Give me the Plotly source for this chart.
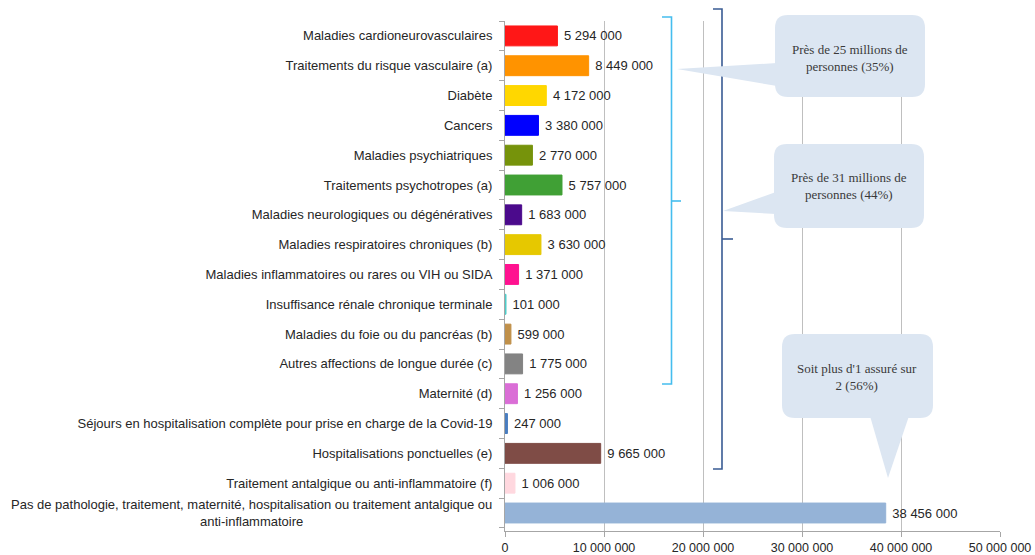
import plotly.graph_objects as go

# ---------------- data ----------------
categories = [
    "Maladies cardioneurovasculaires",
    "Traitements du risque vasculaire (a)",
    "Diabète",
    "Cancers",
    "Maladies psychiatriques",
    "Traitements psychotropes (a)",
    "Maladies neurologiques ou dégénératives",
    "Maladies respiratoires chroniques (b)",
    "Maladies inflammatoires ou rares ou VIH ou SIDA",
    "Insuffisance rénale chronique terminale",
    "Maladies du foie ou du pancréas (b)",
    "Autres affections de longue durée (c)",
    "Maternité (d)",
    "Séjours en hospitalisation complète pour prise en charge de la Covid-19",
    "Hospitalisations ponctuelles (e)",
    "Traitement antalgique ou anti-inflammatoire (f)",
    "Pas de pathologie, traitement, maternité, hospitalisation ou traitement antalgique ou<br>anti-inflammatoire",
]
values = [5294000, 8449000, 4172000, 3380000, 2770000, 5757000, 1683000, 3630000,
          1371000, 101000, 599000, 1775000, 1256000, 247000, 9665000, 1006000, 38456000]
colors = ["#FF1717", "#FF9300", "#FFD700", "#0000FF", "#76930B", "#40A035", "#4B0A8C",
          "#E6C800", "#FF1290", "#4FCDCA", "#C0904A", "#838383", "#DA6ED6", "#4A7EC0",
          "#7F4C46", "#FFD8DF", "#95B3D7"]
x_tickvals = [0, 10000000, 20000000, 30000000, 40000000, 50000000]
x_ticktext = ["0", "10 000 000", "20 000 000", "30 000 000", "40 000 000", "50 000 000"]
callout_texts = [
    "Près de 25 millions de<br>personnes (35%)",
    "Près de 31 millions de<br>personnes (44%)",
    "Soit plus d'1 assuré sur<br>2 (56%)",
]

# ---------------- geometry helpers ----------------
W, H = 1035, 555
ML, MR, MT, MB = 505, 35, 21, 24
PW = W - ML - MR
PH = H - MT - MB


def px(x):
    return (x - ML) / PW


def py(y):
    return (H - MB - y) / PH


def pt(x, y):
    return f"{px(x):.5f},{py(y):.5f}"


def rounded_rect(x0, y0, x1, y1, r):
    return (f"M {pt(x0 + r, y0)} L {pt(x1 - r, y0)} Q {pt(x1, y0)} {pt(x1, y0 + r)} "
            f"L {pt(x1, y1 - r)} Q {pt(x1, y1)} {pt(x1 - r, y1)} "
            f"L {pt(x0 + r, y1)} Q {pt(x0, y1)} {pt(x0, y1 - r)} "
            f"L {pt(x0, y0 + r)} Q {pt(x0, y0)} {pt(x0 + r, y0)} Z")


def poly(points, close=True):
    s = "M " + " L ".join(pt(x, y) for x, y in points)
    return s + (" Z" if close else "")


def fmt(v):
    return f"{v:,}".replace(",", " ")


# ---------------- figure ----------------
fig = go.Figure()
fig.add_trace(go.Bar(
    y=categories,
    x=values,
    orientation="h",
    marker=dict(color=colors, line=dict(color=colors, width=1)),
    text=["\u00a0" + fmt(v) for v in values],
    textposition="outside",
    textfont=dict(family="Liberation Sans, Arial, sans-serif", size=13, color="#262626"),
    constraintext="none",
    cliponaxis=False,
    hoverinfo="skip",
))

ticktext_y = categories[:-1] + [""]

fig.update_layout(
    width=W, height=H,
    margin=dict(l=ML, r=MR, t=MT, b=MB, pad=0, autoexpand=False),
    paper_bgcolor="white", plot_bgcolor="white",
    showlegend=False,
    bargap=0.333,
    font=dict(family="Liberation Sans, Arial, sans-serif", size=13, color="#262626"),
    xaxis=dict(
        range=[0, 50000000],
        tickvals=x_tickvals, ticktext=x_ticktext,
        showgrid=True, gridcolor="#BFBFBF", gridwidth=1,
        zeroline=False,
        showline=True, linecolor="#A6A6A6", linewidth=1,
        ticks="outside", ticklen=5, tickcolor="#A6A6A6",
        tickfont=dict(size=12.5, color="#262626"),
        automargin=False,
        fixedrange=True,
    ),
    yaxis=dict(
        type="category",
        autorange="reversed",
        tickvals=categories, ticktext=ticktext_y,
        tickson="boundaries",
        ticks="outside", ticklen=5, tickcolor="#A6A6A6",
        showline=True, linecolor="#A6A6A6", linewidth=1,
        showgrid=False, zeroline=False,
        ticklabelstandoff=9,
        tickfont=dict(size=13, color="#262626"),
        automargin=False,
        fixedrange=True,
    ),
)

# wrapped last category label, centred lines
fig.add_annotation(
    x=0, xref="paper", xanchor="right", xshift=-11,
    y=categories[-1], yref="y", yanchor="middle",
    text=categories[-1], align="center", showarrow=False,
    font=dict(size=13, color="#262626"),
)

shapes = []
# brackets
light = "#45BDEE"
dark = "#3A5C94"
shapes.append(dict(type="path", xref="paper", yref="paper",
                   path=poly([(662, 17), (671.5, 17), (671.5, 384), (662, 384)], close=False),
                   line=dict(color=light, width=1.6)))
shapes.append(dict(type="path", xref="paper", yref="paper",
                   path=poly([(671.5, 201), (681, 201)], close=False),
                   line=dict(color=light, width=1.6)))
shapes.append(dict(type="path", xref="paper", yref="paper",
                   path=poly([(713, 9), (722, 9), (722, 469), (713, 469)], close=False),
                   line=dict(color=dark, width=1.6)))
shapes.append(dict(type="path", xref="paper", yref="paper",
                   path=poly([(722, 239), (733, 239)], close=False),
                   line=dict(color=dark, width=1.6)))

bubble_fill = "#DCE6F2"
bubbles = [
    dict(box=(775, 15, 925, 97), tri=[(677, 69), (777, 63), (777, 86)], center=(850, 58)),
    dict(box=(774, 144, 924, 228), tri=[(723, 211), (776, 192), (776, 214)], center=(849, 186)),
    dict(box=(782, 334, 933, 418), tri=[(870, 416), (909, 416), (888, 478)], center=(857, 377)),
]
for b, txt in zip(bubbles, callout_texts):
    x0, y0, x1, y1 = b["box"]
    shapes.append(dict(type="path", xref="paper", yref="paper",
                       path=rounded_rect(x0, y0, x1, y1, 13),
                       fillcolor=bubble_fill, line=dict(width=0)))
    shapes.append(dict(type="path", xref="paper", yref="paper",
                       path=poly(b["tri"]),
                       fillcolor=bubble_fill, line=dict(width=0)))
    cx, cy = b["center"]
    fig.add_annotation(
        x=px(cx), y=py(cy), xref="paper", yref="paper",
        xanchor="center", yanchor="middle",
        text=txt, showarrow=False, align="center",
        font=dict(family="Liberation Serif, Times New Roman, serif", size=13, color="#3A3A3A"),
    )

fig.update_layout(shapes=shapes)

fig.write_html(
    "out.html",
    config={"displayModeBar": False, "staticPlot": True},
    post_script="document.body.style.margin='0';document.body.style.padding='0';"
                "document.body.style.overflow='hidden';",
)
